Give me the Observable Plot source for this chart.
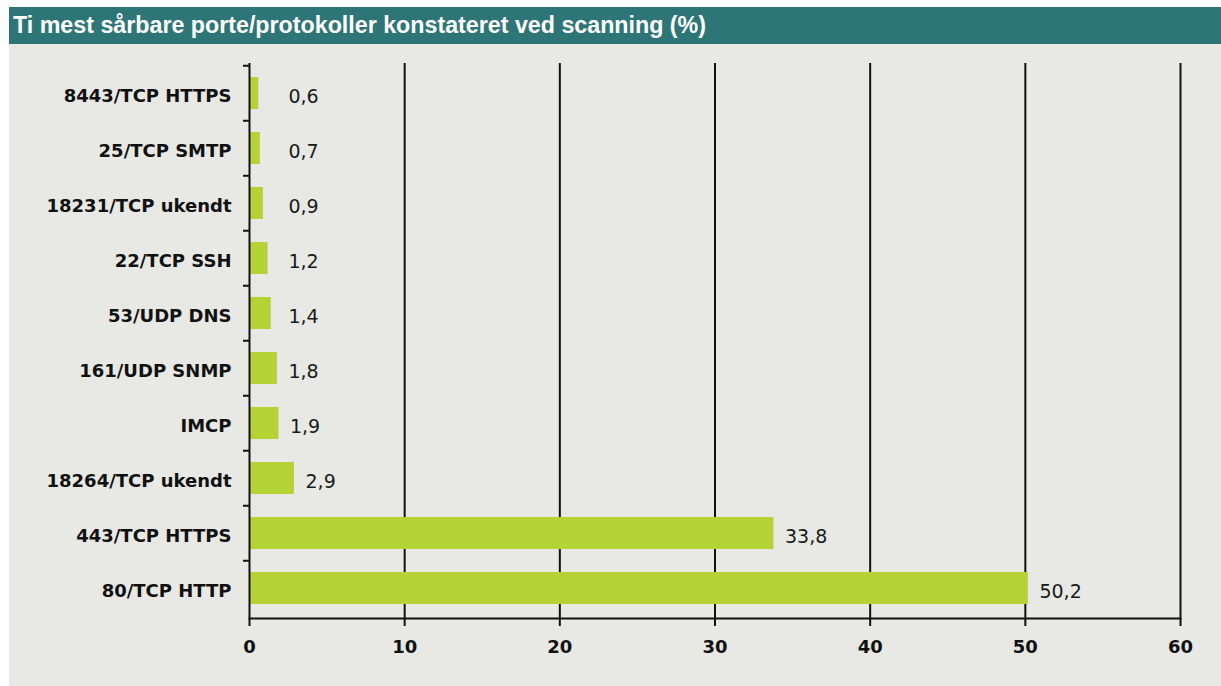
<!DOCTYPE html>
<html>
<head>
<meta charset="utf-8">
<script src="https://cdn.jsdelivr.net/npm/d3@7"></script>
<script src="https://cdn.jsdelivr.net/npm/@observablehq/plot@0.6"></script>
<style>
  html, body { margin: 0; padding: 0; background: #ffffff; }
  #wrap { position: absolute; left: 9px; top: 7px; width: 1212px; }
  #title {
    height: 37px; background: #2d7577; color: #ffffff; overflow: hidden;
    box-sizing: border-box; padding-left: 4px; white-space: nowrap;
  }
  #title span {
    display: inline-block; transform-origin: 0 50%;
    font-family: "Liberation Sans", Arial, sans-serif; font-weight: bold; font-size: 23px;
    line-height: 37px;
  }
  #panel { background: #e8e9e4; height: 642px; }
  #panel svg { display: block; }
</style>
</head>
<body>
<div id="wrap">
  <div id="title"><span id="titleText">Ti mest sårbare porte/protokoller konstateret ved scanning (%)</span></div>
  <div id="panel"></div>
</div>
<script>
const categories = [
  "8443/TCP HTTPS",
  "25/TCP SMTP",
  "18231/TCP ukendt",
  "22/TCP SSH",
  "53/UDP DNS",
  "161/UDP SNMP",
  "IMCP",
  "18264/TCP ukendt",
  "443/TCP HTTPS",
  "80/TCP HTTP"
];
const values = [0.6, 0.7, 0.9, 1.2, 1.4, 1.8, 1.9, 2.9, 33.8, 50.2];
const xTicks = [0, 10, 20, 30, 40, 50, 60];

// condense the title to the reference's narrow face
const t = document.getElementById("titleText");
const w = t.getBoundingClientRect().width;
t.style.transform = `scaleX(${693 / w})`;

const data = categories.map((c, i) => ({label: c, value: values[i]}));
const fmt = v => v.toFixed(1).replace(".", ",");

const chart = Plot.plot({
  width: 1212,
  height: 642,
  marginLeft: 240,
  marginRight: 41,
  marginTop: 19,
  marginBottom: 68,
  style: {background: "transparent", fontFamily: "DejaVu Sans", color: "#111"},
  x: {domain: [0, 60], label: null},
  y: {domain: categories, paddingInner: 0.42, paddingOuter: 0.21, label: null},
  marks: [
    Plot.ruleX(xTicks.slice(1), {stroke: "#111", strokeWidth: 2}),
    Plot.barX(data, {x: "value", y: "label", fill: "#b5d334"}),
    Plot.ruleX([0], {stroke: "#111", strokeWidth: 2}),
    Plot.frame({anchor: "bottom", stroke: "#111", strokeWidth: 2}),
    Plot.axisX({ticks: xTicks, tickSize: 8, tickPadding: 14, strokeWidth: 2, color: "#111",
      fontSize: 18, fontWeight: "bold", tickFormat: d => String(d), label: null}),
    Plot.axisY({tickSize: 6, dy: -27.75, strokeWidth: 2, color: "#111", tickFormat: () => "", label: null}),
    Plot.axisY({tickSize: 0, tickPadding: 18, dy: 3, color: "#111", fontSize: 18, fontWeight: "bold", label: null}),
    Plot.text(data, {x: d => Math.max(d.value, 1.8), y: "label", text: d => fmt(d.value),
      textAnchor: "start", dx: 11, dy: 3, fontSize: 19, fill: "#1a1a1a"})
  ]
});
document.getElementById("panel").appendChild(chart);
</script>
</body>
</html>
